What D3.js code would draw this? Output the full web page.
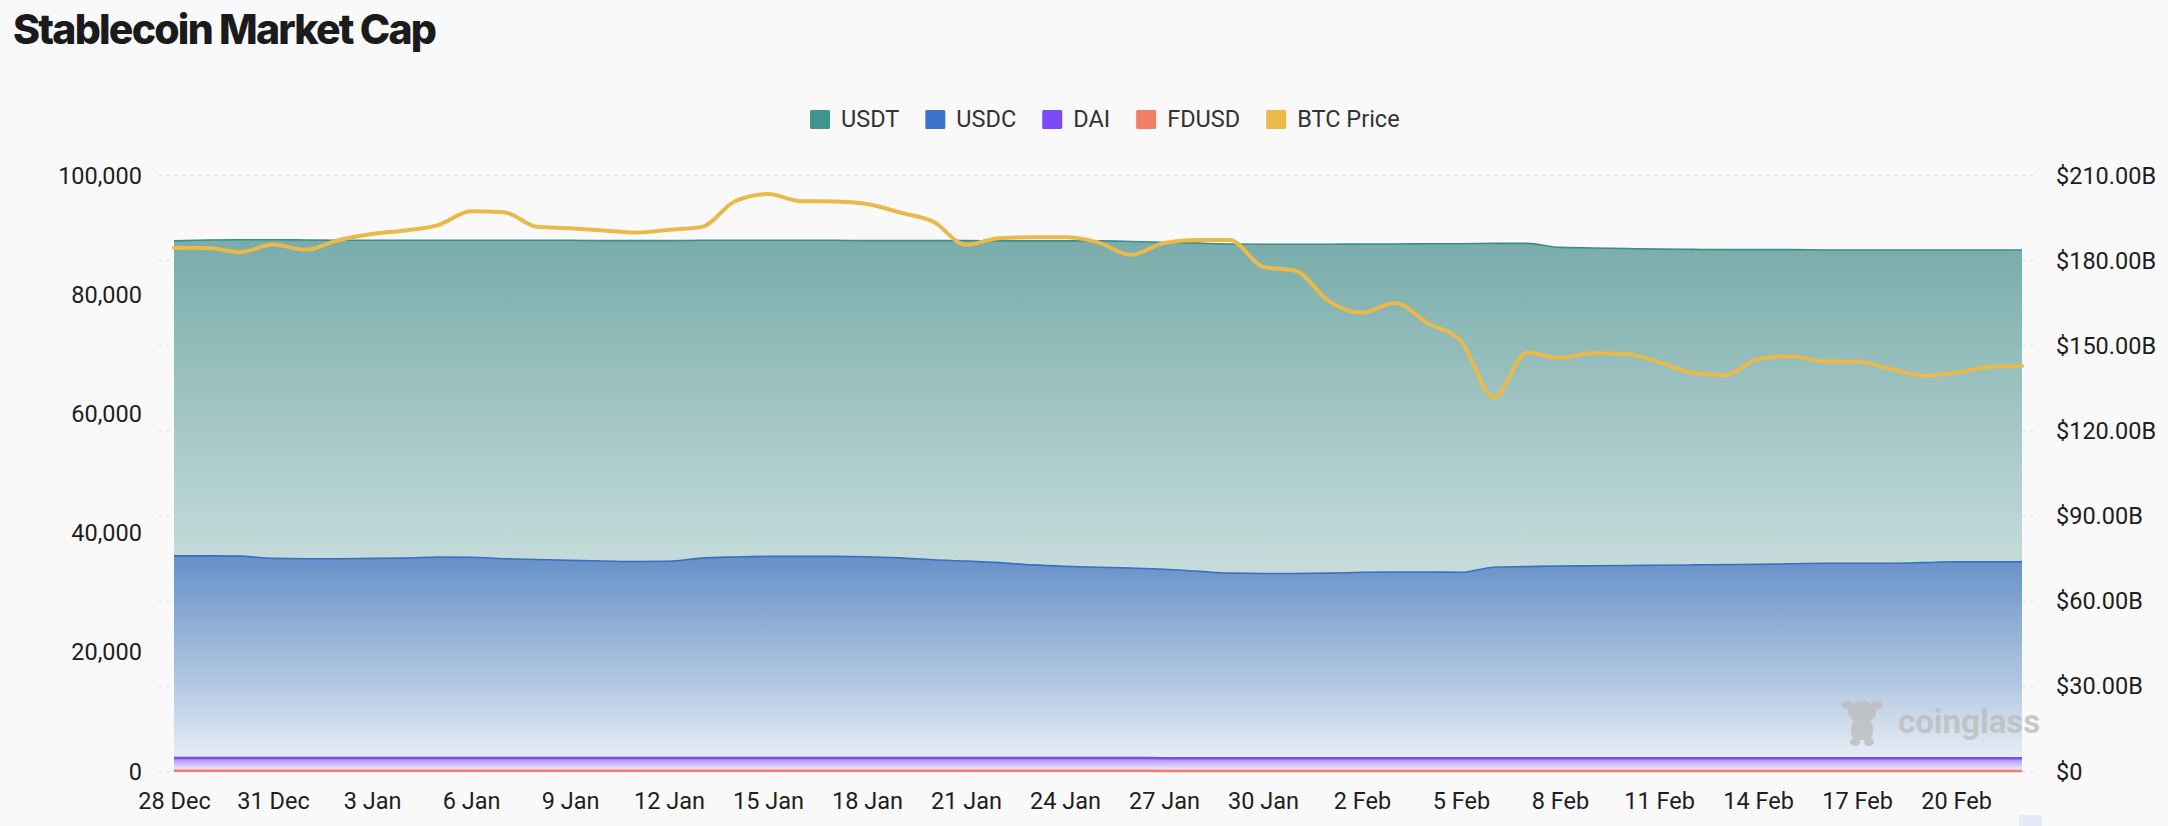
<!DOCTYPE html>
<html><head><meta charset="utf-8">
<script src="https://cdn.jsdelivr.net/npm/d3@7"></script>
<style>
html,body{margin:0;padding:0;background:#f9f9f9;}
svg{display:block;}
</style></head><body>
<svg id="chart" width="2168" height="826"></svg>
<script>
// ---------------- DATA ----------------
const firstDay = new Date(2025, 11, 28);
const lastDayExclusive = new Date(2026, 1, 23);
const dates = d3.timeDay.range(firstDay, lastDayExclusive); // 28 Dec .. 22 Feb

const seriesNames = ["USDT", "USDC", "DAI", "FDUSD", "BTC Price"];
const seriesColors = ["#3f9590", "#3b74c8", "#7b4cf5", "#f17f66", "#e9b94c"];

// Stablecoin market caps, billions USD (right axis)
const usdt = [187.0,187.3,187.4,187.4,187.3,187.2,187.2,187.2,187.2,187.2,
  187.2,187.2,187.2,187.1,187.1,187.1,187.2,187.2,187.2,187.2,
  187.2,187.1,187.1,187.1,187.1,187.0,187.0,187.0,187.0,186.8,
  186.5,186.2,185.9,185.8,185.8,185.8,185.9,185.9,186.0,186.0,
  186.1,186.1,184.7,184.5,184.3,184.1,184.0,183.9,183.9,183.9,
  183.8,183.8,183.8,183.8,183.8,183.8,183.8];
const usdc = [76.0,76.0,75.9,75.1,75.0,75.0,75.1,75.2,75.6,75.5,
  75.0,74.7,74.4,74.2,74.0,74.1,75.2,75.6,75.8,75.8,
  75.8,75.7,75.3,74.6,74.2,73.6,72.8,72.3,72.0,71.7,
  71.3,70.6,69.9,69.8,69.8,69.9,70.2,70.3,70.3,70.2,
  72.0,72.2,72.4,72.5,72.6,72.7,72.8,72.9,73.0,73.2,
  73.4,73.4,73.4,73.6,73.9,73.9,73.9];
const dai = [4.80,4.80,4.79,4.79,4.78,4.78,4.78,4.77,4.77,4.77,
  4.76,4.76,4.76,4.75,4.75,4.75,4.75,4.75,4.74,4.74,
  4.74,4.74,4.73,4.73,4.73,4.73,4.72,4.72,4.72,4.72,
  4.71,4.71,4.71,4.71,4.70,4.70,4.70,4.70,4.70,4.69,
  4.69,4.69,4.69,4.69,4.68,4.68,4.68,4.68,4.68,4.67,
  4.67,4.67,4.67,4.67,4.67,4.66,4.66];
const fdusd = [0.25,0.25,0.25,0.25,0.25,0.25,0.25,0.25,0.25,0.25,
  0.25,0.25,0.25,0.25,0.25,0.25,0.25,0.25,0.25,0.25,
  0.25,0.25,0.25,0.25,0.25,0.25,0.25,0.25,0.25,0.25,
  0.2,0.2,0.2,0.2,0.2,0.2,0.2,0.2,0.2,0.2,
  0.2,0.2,0.2,0.2,0.2,0.2,0.2,0.2,0.2,0.2,
  0.2,0.2,0.2,0.2,0.2,0.2,0.2];
// BTC price, USD (left axis)
const btc = [87900,87850,87150,88450,87550,89200,90200,90800,91700,94000,
  93850,91400,91150,90800,90450,90900,91400,95700,96900,95700,
  95650,95250,93800,92300,88400,89500,89650,89650,88800,86700,
  88700,89200,89200,84700,84000,78900,77000,78600,75200,72200,
  62800,70300,69400,70200,70050,68700,66900,66500,69200,69700,
  68800,68750,67600,66400,66900,67900,68050];

const leftTicks = [0, 20000, 40000, 60000, 80000, 100000];
const rightTicks = [0, 30, 60, 90, 120, 150, 180, 210];
const rightTickLabels = ["$0", "$30.00B", "$60.00B", "$90.00B", "$120.00B", "$150.00B", "$180.00B", "$210.00B"];
const xTickLabels = ["28 Dec","31 Dec","3 Jan","6 Jan","9 Jan","12 Jan","15 Jan","18 Jan","21 Jan","24 Jan",
  "27 Jan","30 Jan","2 Feb","5 Feb","8 Feb","11 Feb","14 Feb","17 Feb","20 Feb"];
const titleText = "Stablecoin Market Cap";
const watermarkText = "coinglass";

// ---------------- CHART ----------------
const svg = d3.select("#chart");
const FONT = "Roboto, 'Noto Sans', sans-serif";

const x = d3.scaleTime().domain([dates[0], dates[dates.length - 1]]).range([174, 2022]);
const yL = d3.scaleLinear().domain([0, 100000]).range([771.5, 175.6]);
const yR = d3.scaleLinear().domain([0, 210]).range([771.5, 175.6]);

const defs = svg.append("defs");
function grad(id, y1, y2, stops) {
  const g = defs.append("linearGradient").attr("id", id)
    .attr("gradientUnits", "userSpaceOnUse")
    .attr("x1", 0).attr("x2", 0).attr("y1", y1).attr("y2", y2);
  stops.forEach(s => g.append("stop").attr("offset", s[0]).attr("stop-color", s[1]));
}
grad("gUSDT", yR(d3.max(usdt)), yR(0), [[0, "#78acaa"], [0.5, "#b7d3d1"], [1, "#f3f7f7"]]);
grad("gUSDC", yR(d3.max(usdc)), yR(0), [[0, "#6690c8"], [0.6, "#b3c9e2"], [1, "#f2f4f9"]]);
grad("gDAI", yR(d3.max(dai)), yR(0), [[0, "#a688f6"], [0.5, "#d3c5fa"], [1, "#f6f3fd"]]);

// title
svg.append("text").attr("x", 13).attr("y", 43.5)
  .attr("font-family", "Inter, 'Noto Sans', sans-serif").attr("font-weight", 800)
  .attr("font-size", 41).attr("letter-spacing", "-1.8px").attr("fill", "#1b1b1d")
  .text(titleText);

// gridlines
svg.append("g").selectAll("line").data(rightTicks).join("line")
  .attr("x1", 158).attr("x2", 2037)
  .attr("y1", d => yR(d)).attr("y2", d => yR(d))
  .attr("stroke", "#e3e3e3").attr("stroke-width", 1).attr("stroke-dasharray", "4,4");

const idx = d3.range(dates.length);
function areaGen(vals) {
  return d3.area().x(i => x(dates[i])).y0(yR(0)).y1(i => yR(vals[i])).curve(d3.curveMonotoneX)(idx);
}
function lineGen(vals, scale) {
  return d3.line().x(i => x(dates[i])).y(i => scale(vals[i])).curve(d3.curveMonotoneX)(idx);
}

const plot = svg.append("g");
plot.append("path").attr("d", areaGen(usdt)).attr("fill", "url(#gUSDT)");
plot.append("path").attr("d", lineGen(usdt, yR)).attr("fill", "none").attr("stroke", "#3d8c87").attr("stroke-width", 1.6);
plot.append("path").attr("d", areaGen(usdc)).attr("fill", "url(#gUSDC)");
plot.append("path").attr("d", lineGen(usdc, yR)).attr("fill", "none").attr("stroke", "#3a6fc0").attr("stroke-width", 1.6);
plot.append("path").attr("d", areaGen(dai)).attr("fill", "url(#gDAI)");
plot.append("path").attr("d", lineGen(dai, yR)).attr("fill", "none").attr("stroke", seriesColors[2]).attr("stroke-width", 2.5);
plot.append("path").attr("d", lineGen(fdusd, yR)).attr("fill", "none").attr("stroke", seriesColors[3]).attr("stroke-width", 2.5);

// watermark
const wm = svg.append("g").attr("opacity", 0.8).attr("fill", "#bdbdbd");
wm.append("ellipse").attr("cx", 1862).attr("cy", 712).attr("rx", 14).attr("ry", 11);
wm.append("ellipse").attr("cx", 1847).attr("cy", 705).attr("rx", 6).attr("ry", 4);
wm.append("ellipse").attr("cx", 1877).attr("cy", 705).attr("rx", 6).attr("ry", 4);
wm.append("rect").attr("x", 1851).attr("y", 720).attr("width", 22).attr("height", 20).attr("rx", 8);
wm.append("ellipse").attr("cx", 1855).attr("cy", 742).attr("rx", 5).attr("ry", 4);
wm.append("ellipse").attr("cx", 1869).attr("cy", 742).attr("rx", 5).attr("ry", 4);
wm.append("text").attr("x", 1898).attr("y", 733).attr("font-family", FONT).attr("font-weight", 700)
  .attr("font-size", 33).text(watermarkText);

// BTC line
plot.append("path").attr("d", lineGen(btc, yL)).attr("fill", "none").attr("stroke", seriesColors[4])
  .attr("stroke-width", 4).attr("stroke-linejoin", "round").attr("stroke-linecap", "round");

// axes
function styleAxis(g) {
  g.select(".domain").remove();
  g.selectAll(".tick line").remove();
  g.selectAll("text").attr("font-family", FONT).attr("font-size", 23.5).attr("fill", "#1e1e1e");
}
svg.append("g").attr("transform", "translate(142,0)")
  .call(d3.axisLeft(yL).tickValues(leftTicks).tickFormat(d3.format(",")).tickSize(0).tickPadding(0))
  .call(styleAxis);
svg.append("g").attr("transform", "translate(2056,0)")
  .call(d3.axisRight(yR).tickValues(rightTicks).tickFormat((d, i) => rightTickLabels[i]).tickSize(0).tickPadding(0))
  .call(styleAxis);
const xTickDates = xTickLabels.map((_, i) => dates[i * 3]);
svg.append("g").attr("transform", "translate(0,792)")
  .call(d3.axisBottom(x).tickValues(xTickDates).tickFormat((d, i) => xTickLabels[i]).tickSize(0).tickPadding(0))
  .call(styleAxis);

// legend
const legend = svg.append("g");
let lx = 810;
seriesNames.forEach((name, i) => {
  legend.append("rect").attr("x", lx).attr("y", 110).attr("width", 20).attr("height", 19)
    .attr("rx", 1.5).attr("fill", seriesColors[i]);
  const t = legend.append("text").attr("x", lx + 31).attr("y", 127)
    .attr("font-family", FONT).attr("font-size", 23.5).attr("fill", "#333").text(name);
  lx += 31 + t.node().getComputedTextLength() + 26;
});

// small scrollbar remnant bottom right
svg.append("rect").attr("x", 2019).attr("y", 815).attr("width", 23).attr("height", 11).attr("fill", "#e6eaf8");
</script>
</body></html>
